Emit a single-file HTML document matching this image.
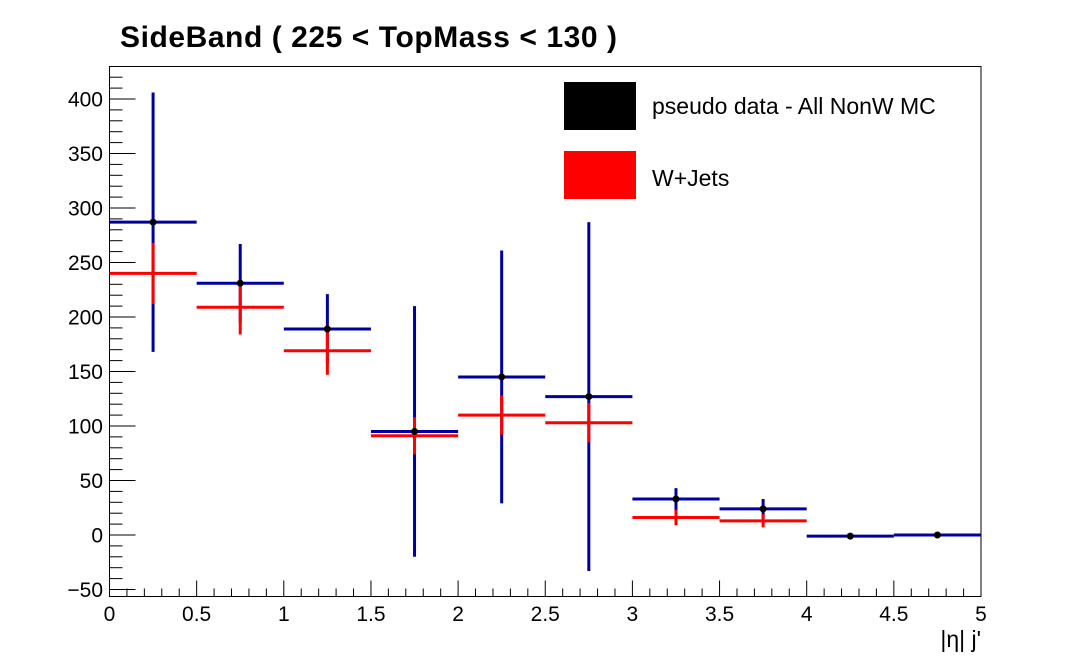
<!DOCTYPE html>
<html><head><meta charset="utf-8"><style>
body{margin:0;background:#fff;}
svg text{font-family:"Liberation Sans",Arial,sans-serif;}
</style></head><body>
<svg id="c" width="1090" height="663" xmlns="http://www.w3.org/2000/svg">
<rect width="1090" height="663" fill="#fff"/>
<text x="120" y="47" font-size="30" font-weight="bold" textLength="497">SideBand ( 225 &lt; TopMass &lt; 130 )</text>
<rect x="109.5" y="66.5" width="871.5" height="530" fill="none" stroke="#000" stroke-width="1"/>
<g id="axes"></g>
<g id="marks"></g>
<g>
<rect x="564" y="82" width="72" height="48" fill="#000"/>
<text x="652" y="114" font-size="23">pseudo data - All NonW MC</text>
<rect x="564" y="151" width="72" height="48" fill="#ff0000"/>
<text x="652" y="186" font-size="23">W+Jets</text>
</g>
<text x="981" y="647" font-size="23" text-anchor="end">|η| j'</text>
</svg>
<script>
const binEdges=[0,0.5,1,1.5,2,2.5,3,3.5,4,4.5,5];
const dataVals=[287,231,189,95,145,127,33,24,-1,0];
const dataErrs=[119,36,32,115,116,160,10,9,0,0];
const wjVals=[240,209,169,91,110,103,16,13,null,null];
const wjErrs=[28,25,22,17,18,18,7,6,0,0];
const yTicks=[-50,0,50,100,150,200,250,300,350,400];
const xTicks=[0,0.5,1,1.5,2,2.5,3,3.5,4,4.5,5];
const xTickLabels=["0","0.5","1","1.5","2","2.5","3","3.5","4","4.5","5"];
const X0=109.5,X1=981,YB=596.5,YT=66.5;
const xs=v=>X0+(v-0)/5*(X1-X0);
const ys=v=>535-v*1.09;
const NS="http://www.w3.org/2000/svg";
const ax=document.getElementById('axes'),mk=document.getElementById('marks');
function el(p,t,a){const e=document.createElementNS(NS,t);for(const k in a)e.setAttribute(k,a[k]);p.appendChild(e);return e;}
for(let v=-50;v<=430;v+=10){const y=ys(v);if(y<YT||y>YB)continue;const maj=v%50===0;
const l=el(ax,'line',{x1:X0,x2:X0+(maj?26:13),y1:y,y2:y,stroke:'#000'});

}
yTicks.forEach(v=>{const t=el(ax,'text',{x:103,y:ys(v)+7.5,'font-size':21,'text-anchor':'end'});t.textContent=v<0?'\u2212'+(-v):v;

});
for(let i=0;i<=50;i++){const v=i/10,x=xs(v),maj=i%5===0;
const l=el(ax,'line',{x1:x,x2:x,y1:YB,y2:YB-(maj?16:8),stroke:'#000'});

}
xTicks.forEach((v,i)=>{const t=el(ax,'text',{x:xs(v),y:621,'font-size':21,'text-anchor':'middle'});t.textContent=xTickLabels[i];

});
dataVals.forEach((v,i)=>{const a=xs(binEdges[i]),b=xs(binEdges[i+1]),c=(a+b)/2;
const g=el(mk,'g',{stroke:'#0000a0','stroke-width':3});


el(g,'line',{x1:a,x2:b,y1:ys(v),y2:ys(v)});
if(dataErrs[i]>0)el(g,'line',{x1:c,x2:c,y1:ys(v-dataErrs[i]),y2:ys(v+dataErrs[i])});});
wjVals.forEach((v,i)=>{if(v===null)return;const a=xs(binEdges[i]),b=xs(binEdges[i+1]),c=(a+b)/2;
const g=el(mk,'g',{stroke:'#ff0000','stroke-width':3});


el(g,'line',{x1:a,x2:b,y1:ys(v),y2:ys(v)});
if(wjErrs[i]>0)el(g,'line',{x1:c,x2:c,y1:ys(v-wjErrs[i]),y2:ys(v+wjErrs[i])});});
dataVals.forEach((v,i)=>{const c=xs((binEdges[i]+binEdges[i+1])/2);
const p=el(mk,'circle',{cx:c,cy:ys(v),r:3.5,fill:'#000'});

});
</script>
</body></html>
